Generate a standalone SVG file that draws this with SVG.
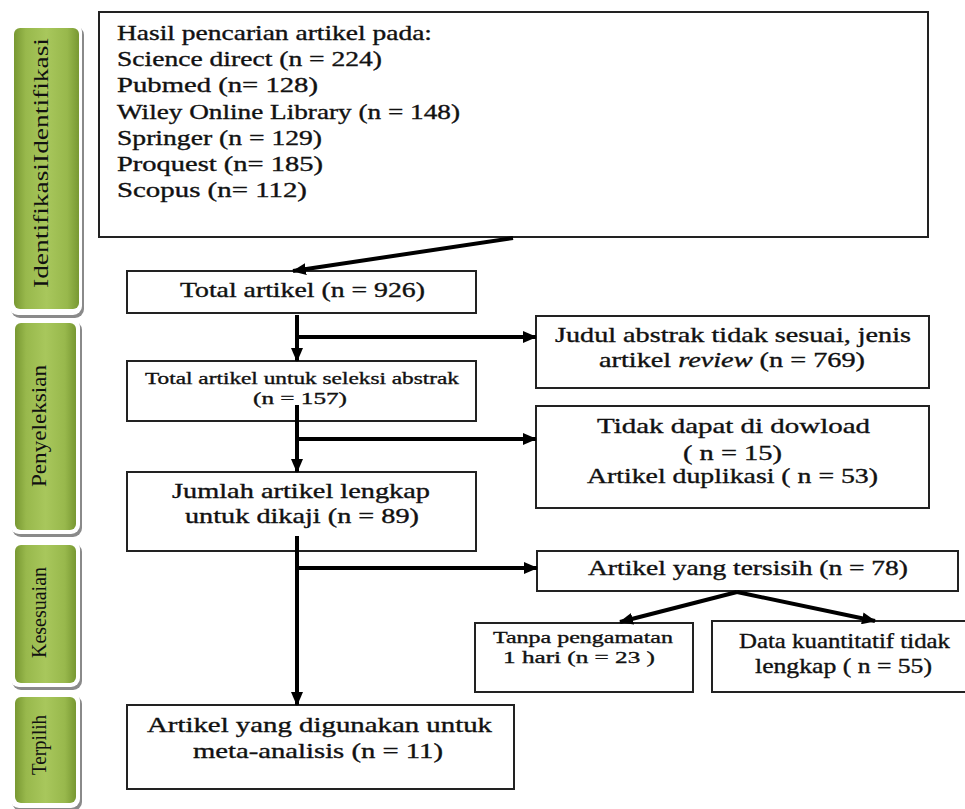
<svg xmlns="http://www.w3.org/2000/svg" width="965" height="809" viewBox="0 0 965 809">
<defs>
<linearGradient id="g" x1="0" y1="0" x2="1" y2="0">
<stop offset="0" stop-color="#789832"/>
<stop offset="0.18" stop-color="#98b84c"/>
<stop offset="0.5" stop-color="#a8c75c"/>
<stop offset="0.82" stop-color="#98b84c"/>
<stop offset="1" stop-color="#789832"/>
</linearGradient>
<marker id="ah" markerUnits="userSpaceOnUse" markerWidth="14" markerHeight="12" viewBox="0 0 14 12" refX="13" refY="6" orient="auto">
<path d="M0,0 L14,6 L0,12 Z" fill="#000"/>
</marker>
<style>
.box{fill:#fff;stroke:#222;stroke-width:2}
.t{font-family:'Liberation Serif',serif;font-size:21px;fill:#111;stroke:#111;stroke-width:0.35}
.s{font-size:17px}
.side{font-family:'Liberation Serif',serif;font-size:21px;fill:#111}
.shadow{fill:#8a8a8a}
.border{fill:#fff}
.green{fill:url(#g)}
.c{fill:none;stroke:#000;stroke-width:4}
</style>
</defs>

<g id="side-identifikasi">
<rect class="shadow" x="11" y="26" width="73" height="292" rx="9"/>
<rect class="border" x="9" y="23" width="73" height="292" rx="9"/>
<rect class="green" x="14" y="28" width="65" height="281" rx="6"/>
<text class="side" transform="translate(48,288) rotate(-90)" textLength="250" lengthAdjust="spacingAndGlyphs">IdentifikasiIdentifikasi</text>
</g>
<g id="side-penyeleksian">
<rect class="shadow" x="12" y="321" width="70" height="216" rx="9"/>
<rect class="border" x="10" y="318" width="70" height="216" rx="9"/>
<rect class="green" x="15" y="323" width="61" height="207" rx="6"/>
<text class="side" transform="translate(46,487) rotate(-90)" textLength="122" lengthAdjust="spacingAndGlyphs">Penyeleksian</text>
</g>
<g id="side-kesesuaian">
<rect class="shadow" x="12" y="543" width="70" height="147" rx="9"/>
<rect class="border" x="10" y="540" width="70" height="147" rx="9"/>
<rect class="green" x="15" y="545" width="61" height="138" rx="6"/>
<text class="side" transform="translate(46,658) rotate(-90)" textLength="91" lengthAdjust="spacingAndGlyphs">Kesesuaian</text>
</g>
<g id="side-terpilih">
<rect class="shadow" x="12" y="695" width="70" height="116" rx="9"/>
<rect class="border" x="10" y="692" width="70" height="116" rx="9"/>
<rect class="green" x="15" y="697" width="61" height="106" rx="6"/>
<text class="side" transform="translate(46,775) rotate(-90)" textLength="60" lengthAdjust="spacingAndGlyphs">Terpilih</text>
</g>

<g id="n-hasil">
<rect class="box" x="99" y="12" width="829" height="225"/>
<text class="t" x="117" y="40" textLength="315" lengthAdjust="spacingAndGlyphs">Hasil pencarian artikel pada:</text>
<text class="t" x="117" y="66" textLength="265" lengthAdjust="spacingAndGlyphs">Science direct (n = 224)</text>
<text class="t" x="117" y="92" textLength="201" lengthAdjust="spacingAndGlyphs">Pubmed (n= 128)</text>
<text class="t" x="117" y="119" textLength="343" lengthAdjust="spacingAndGlyphs">Wiley Online Library (n = 148)</text>
<text class="t" x="117" y="145" textLength="205" lengthAdjust="spacingAndGlyphs">Springer (n = 129)</text>
<text class="t" x="117" y="171" textLength="206" lengthAdjust="spacingAndGlyphs">Proquest (n= 185)</text>
<text class="t" x="117" y="197" textLength="190" lengthAdjust="spacingAndGlyphs">Scopus  (n= 112)</text>
</g>

<g id="n-total">
<rect class="box" x="127" y="271" width="349" height="42"/>
<text class="t" x="180" y="297" textLength="245" lengthAdjust="spacingAndGlyphs">Total artikel (n = 926)</text>
</g>

<g id="n-seleksi">
<rect class="box" x="127" y="361" width="349" height="60"/>
<text class="t s" x="145" y="384" textLength="314" lengthAdjust="spacingAndGlyphs">Total artikel untuk seleksi abstrak</text>
<text class="t s" x="253" y="404" textLength="94" lengthAdjust="spacingAndGlyphs">(n = 157)</text>
</g>

<g id="n-jumlah">
<rect class="box" x="127" y="472" width="349" height="79"/>
<text class="t" x="172" y="498" textLength="258" lengthAdjust="spacingAndGlyphs">Jumlah artikel lengkap</text>
<text class="t" x="185" y="523" textLength="234" lengthAdjust="spacingAndGlyphs">untuk dikaji (n = 89)</text>
</g>

<g id="n-final">
<rect class="box" x="127" y="705" width="387" height="84"/>
<text class="t" x="147" y="732" textLength="345" lengthAdjust="spacingAndGlyphs">Artikel yang digunakan untuk</text>
<text class="t" x="193" y="758" textLength="250" lengthAdjust="spacingAndGlyphs">meta-analisis (n = 11)</text>
</g>

<g id="n-judul">
<rect class="box" x="536" y="316" width="393" height="72"/>
<text class="t" x="555" y="342" textLength="356" lengthAdjust="spacingAndGlyphs">Judul abstrak tidak sesuai, jenis</text>
<text class="t" x="599" y="367" textLength="266" lengthAdjust="spacingAndGlyphs">artikel <tspan font-style="italic">review</tspan> (n = 769)</text>
</g>

<g id="n-download">
<rect class="box" x="536" y="406" width="393" height="102"/>
<text class="t" x="597" y="433" textLength="273" lengthAdjust="spacingAndGlyphs">Tidak dapat di dowload</text>
<text class="t" x="683" y="460" textLength="99" lengthAdjust="spacingAndGlyphs">( n = 15)</text>
<text class="t" x="587" y="483" textLength="291" lengthAdjust="spacingAndGlyphs">Artikel duplikasi ( n = 53)</text>
</g>

<g id="n-tersisih">
<rect class="box" x="537" y="551" width="421" height="40"/>
<text class="t" x="588" y="575" textLength="320" lengthAdjust="spacingAndGlyphs">Artikel yang tersisih (n = 78)</text>
</g>

<g id="n-tanpa">
<rect class="box" x="475" y="623" width="218" height="69"/>
<text class="t s" x="493" y="643" textLength="180" lengthAdjust="spacingAndGlyphs">Tanpa pengamatan</text>
<text class="t s" x="503" y="663" textLength="152" lengthAdjust="spacingAndGlyphs">1 hari (n = 23 )</text>
</g>

<g id="n-kuantitatif">
<rect class="box" x="712" y="621" width="260" height="71"/>
<text class="t" x="739" y="648" textLength="211" lengthAdjust="spacingAndGlyphs">Data kuantitatif tidak</text>
<text class="t" x="755" y="673" textLength="177" lengthAdjust="spacingAndGlyphs">lengkap ( n = 55)</text>
</g>

<g id="connectors">
<line class="c" x1="513" y1="238" x2="293" y2="271" marker-end="url(#ah)"/>
<line class="c" x1="297" y1="315" x2="297" y2="361" marker-end="url(#ah)"/>
<line class="c" x1="297" y1="337" x2="536" y2="337" marker-end="url(#ah)"/>
<line class="c" x1="297" y1="405" x2="297" y2="472" marker-end="url(#ah)"/>
<line class="c" x1="297" y1="439" x2="536" y2="439" marker-end="url(#ah)"/>
<line class="c" x1="297" y1="536" x2="297" y2="705" marker-end="url(#ah)"/>
<line class="c" x1="297" y1="568" x2="537" y2="568" marker-end="url(#ah)"/>
<line class="c" x1="737" y1="592" x2="620" y2="622" marker-end="url(#ah)"/>
<line class="c" x1="737" y1="592" x2="875" y2="621" marker-end="url(#ah)"/>
</g>
</svg>
